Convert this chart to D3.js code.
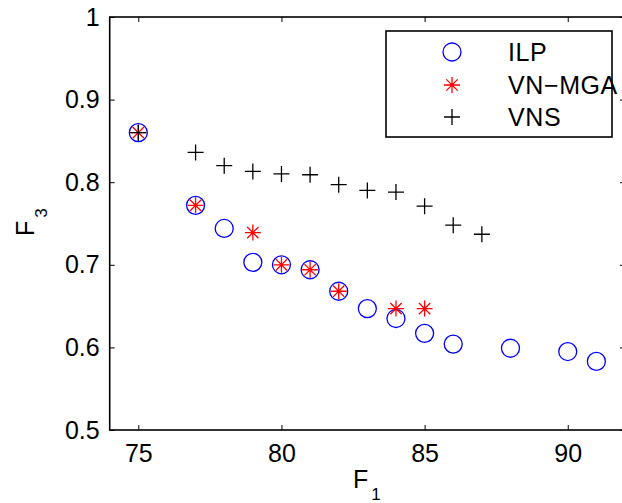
<!DOCTYPE html>
<html>
<head>
<meta charset="utf-8">
<script src="https://cdn.jsdelivr.net/npm/d3@7"></script>
<style>
  html, body { margin: 0; padding: 0; background: #fff; }
  svg { display: block; font-family: "Liberation Sans", Arial, Helvetica, sans-serif; }
</style>
</head>
<body>
<svg id="chart" width="622" height="503"></svg>
<script>
// Pareto front samples: F1 vs F3 for each method
const ilpF1 = [75, 77, 78, 79, 80, 81, 82, 83, 84, 85, 86, 88, 90, 91];
const ilpF3 = [0.860, 0.772, 0.744, 0.703, 0.700, 0.694, 0.668, 0.647, 0.635, 0.617, 0.604, 0.599, 0.595, 0.583];

const mgaF1 = [75, 77, 79, 80, 81, 82, 84, 85];
const mgaF3 = [0.860, 0.772, 0.739, 0.700, 0.694, 0.668, 0.647, 0.647];

const vnsF1 = [75, 77, 78, 79, 80, 81, 82, 83, 84, 85, 86, 87];
const vnsF3 = [0.860, 0.836, 0.820, 0.813, 0.810, 0.809, 0.797, 0.790, 0.788, 0.771, 0.748, 0.737];

const seriesNames = ["ILP", "VN\u2212MGA", "VNS"];
const xTickValues = [75, 80, 85, 90];
const yTickValues = [0.5, 0.6, 0.7, 0.8, 0.9, 1];
const yTickLabels = ["0.5", "0.6", "0.7", "0.8", "0.9", "1"];

const svg = d3.select("#chart");
const plot = { left: 109.7, right: 625, top: 17, bottom: 430 };
const fontSize = 25;

const x = d3.scaleLinear().domain([74, 92]).range([plot.left, plot.right]);
const y = d3.scaleLinear().domain([0.5, 1]).range([plot.bottom, plot.top]);

// Axes with inward ticks on all four sides
function styleAxis(g) {
  g.select(".domain").remove();
  g.selectAll(".tick line").attr("stroke", "#000").attr("stroke-width", 1);
  g.selectAll(".tick text")
    .attr("fill", "#000")
    .style("font-size", fontSize + "px")
    .style("font-family", "'Liberation Sans', Arial, Helvetica, sans-serif");
}

svg.append("g")
  .attr("transform", `translate(0,${plot.bottom})`)
  .call(d3.axisBottom(x).tickValues(xTickValues).tickSizeInner(-5).tickSizeOuter(0).tickPadding(14).tickFormat(d3.format("d")))
  .call(styleAxis);

svg.append("g")
  .attr("transform", `translate(0,${plot.top})`)
  .call(d3.axisTop(x).tickValues(xTickValues).tickSizeInner(-5).tickSizeOuter(0).tickFormat(""))
  .call(styleAxis);

svg.append("g")
  .attr("transform", `translate(${plot.left},0)`)
  .call(d3.axisLeft(y).tickValues(yTickValues).tickSizeInner(-5).tickSizeOuter(0).tickPadding(10)
    .tickFormat((d, i) => yTickLabels[i]))
  .call(styleAxis);

svg.append("g")
  .attr("transform", `translate(${plot.right},0)`)
  .call(d3.axisRight(y).tickValues(yTickValues).tickSizeInner(-5).tickSizeOuter(0).tickFormat(""))
  .call(styleAxis);

// Axes box
svg.append("rect")
  .attr("x", plot.left).attr("y", plot.top)
  .attr("width", plot.right - plot.left).attr("height", plot.bottom - plot.top)
  .attr("fill", "none").attr("stroke", "#000").attr("stroke-width", 1.6);

// Marker drawing helpers
const circleR = 9;
const starR = 8;
const plusR = 8;

function drawCircle(g, cx, cy) {
  g.append("circle").attr("cx", cx).attr("cy", cy).attr("r", circleR)
    .attr("fill", "none").attr("stroke", "#0000ff").attr("stroke-width", 1.3);
}
function drawStar(g, cx, cy) {
  const d = starR * Math.SQRT1_2;
  const p = `M${cx - starR},${cy}H${cx + starR}M${cx},${cy - starR}V${cy + starR}` +
            `M${cx - d},${cy - d}L${cx + d},${cy + d}M${cx - d},${cy + d}L${cx + d},${cy - d}`;
  g.append("path").attr("d", p).attr("fill", "none").attr("stroke", "#ff0000").attr("stroke-width", 1.3);
}
function drawPlus(g, cx, cy) {
  const p = `M${cx - plusR},${cy}H${cx + plusR}M${cx},${cy - plusR}V${cy + plusR}`;
  g.append("path").attr("d", p).attr("fill", "none").attr("stroke", "#000").attr("stroke-width", 1.3);
}

const marks = svg.append("g");
ilpF1.forEach((f1, i) => drawCircle(marks, x(f1), y(ilpF3[i])));
mgaF1.forEach((f1, i) => drawStar(marks, x(f1), y(mgaF3[i])));
vnsF1.forEach((f1, i) => drawPlus(marks, x(f1), y(vnsF3[i])));

// Legend
const legend = svg.append("g");
legend.append("rect")
  .attr("x", 386).attr("y", 31).attr("width", 226).attr("height", 106)
  .attr("fill", "#fff").attr("stroke", "#000").attr("stroke-width", 1.6);
const rowY = [52, 85, 117];
const markerFns = [drawCircle, drawStar, drawPlus];
seriesNames.forEach((name, i) => {
  markerFns[i](legend, 452, rowY[i]);
  legend.append("text")
    .attr("x", 508).attr("y", rowY[i] + 9)
    .style("font-size", fontSize + "px")
    .style("letter-spacing", "0.6px")
    .attr("fill", "#000")
    .text(name);
});

// Axis labels with subscripts
const xl = svg.append("text")
  .attr("x", 353).attr("y", 488)
  .style("font-size", fontSize + "px").attr("fill", "#000");
xl.append("tspan").text("F");
xl.append("tspan").attr("dx", 3).attr("dy", 12).style("font-size", "17px").text("1");

const yl = svg.append("text")
  .attr("transform", "translate(34,236) rotate(-90)")
  .style("font-size", fontSize + "px").attr("fill", "#000");
yl.append("tspan").text("F");
yl.append("tspan").attr("dx", 3).attr("dy", 13).style("font-size", "17px").text("3");
</script>
</body>
</html>
